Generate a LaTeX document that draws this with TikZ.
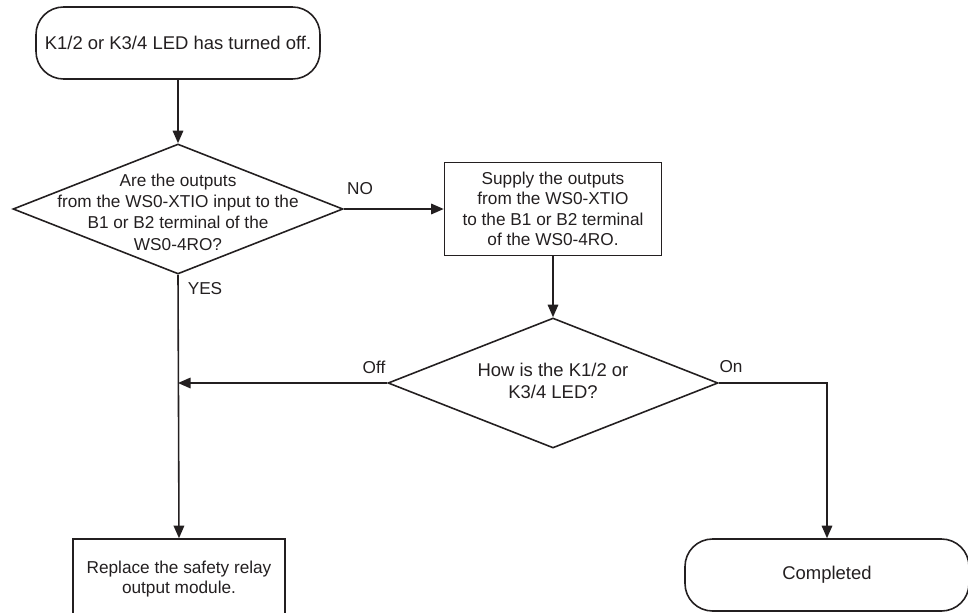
\documentclass[tikz,border=0pt]{standalone}
\usepackage{fontspec}
\setmainfont{Liberation Sans}
\usetikzlibrary{arrows.meta,shapes.geometric}
\definecolor{inkgray}{RGB}{35,31,32}
\tikzset{
  term/.style={draw=inkgray,line width=0.9pt,rounded corners=5.5mm,minimum width=56.8mm,minimum height=14.4mm,
    font=\fontsize{10.5}{12.5}\selectfont},
  procbox/.style={draw=inkgray,line width=0.9pt,align=center,font=\fontsize{9.8}{11.6}\selectfont},
  decision/.style={draw=inkgray,diamond,line width=0.9pt,minimum width=66mm,minimum height=26mm,inner sep=0pt},
  dtext/.style={align=center},
  lbl/.style={font=\fontsize{9.8}{11.6}\selectfont},
  flow/.style={draw=inkgray,line width=0.9pt,-{Triangle[length=2.5mm,width=2.1mm]}}
}

\begin{document}
\begin{tikzpicture}[x=0.2mm,y=0.2mm,text=inkgray]
        \useasboundingbox (0,0) rectangle (968,612);
        % boxes
        \node[term] (start) at (178,569) {K1/2 or K3/4 LED has turned off.};
        \node[decision] (q1) at (178,403) {};
        \node[dtext,font=\fontsize{9.8}{12.1}\selectfont] (q1t) at (178,400) {Are the outputs\\from the WS0-XTIO input to the\\B1 or B2 terminal of the\\WS0-4RO?};
        \node[procbox,minimum width=43.4mm,minimum height=18.6mm] (supply) at (553,403) {Supply the outputs\\from the WS0-XTIO\\to the B1 or B2 terminal\\of the WS0-4RO.};
        \node[decision] (q2) at (553,229) {};
        \node[dtext,font=\fontsize{10.5}{12.5}\selectfont] (q2t) at (553,231) {How is the K1/2 or\\K3/4 LED?};
        \node[procbox,minimum width=42.4mm,minimum height=16mm] (replace) at (179,33) {Replace the safety relay\\output module.};
        \node[term] (done) at (827,37) {Completed};
        % branch labels
        \foreach \t/\x/\y/\n in {NO/360/423/lno,YES/205/323/lyes,Off/374/245/loff,On/731/245/lon}
          \node[lbl] (\n) at (\x,\y) {\t};
        % flow
        \draw[flow] (start.south) -- (q1.north);
        \draw[flow] (q1.east) -- (supply.west);
        \draw[flow] (supply.south) -- (q2.north);
        \draw[flow] (q1.south) -- (replace.north);
        \draw[flow] (q2.west) -- (q2.west -| q1.south);
        \draw[flow] (q2.east) -| (done.north);
      \end{tikzpicture}
\end{document}
